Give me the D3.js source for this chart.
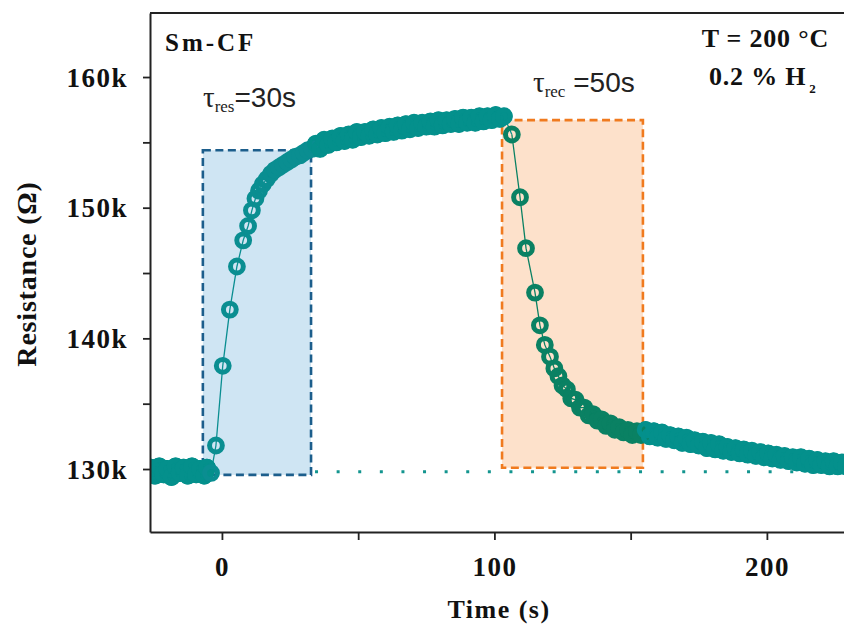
<!DOCTYPE html>
<html>
<head>
<meta charset="utf-8">
<script src="https://cdn.jsdelivr.net/npm/d3@7"></script>
<style>
  html, body { margin: 0; padding: 0; background: #fff; }
  svg { display: block; }
  .serifb { font-family: "Liberation Serif", "Times New Roman", serif; font-weight: bold; fill: #111; }
</style>
</head>
<body>
<svg id="chart" width="844" height="626"></svg>
<script>
// ---------------- DATA ----------------
// Time (s) / Resistance (kΩ)
const baseTime = [-26, -24.5, -23, -21.5, -20, -18.5, -17, -15.5, -14, -12.5, -11, -9.5, -8, -6.5, -5.5];
const baseRes  = [130.1, 129.5, 130.2, 129.6, 130.0, 129.4, 130.2, 129.7, 130.1, 129.5, 130.2, 129.6, 130.0, 129.5, 130.1];

const riseTime = [-4, -2.2, 0.3, 2.9, 5.5, 7.8, 9.6, 11, 12.3, 13.6, 15, 16.5, 18, 19.5, 21, 22.5, 24, 25.5, 27, 28.6, 30, 31.5, 33];
const riseRes  = [129.7, 131.8, 137.9, 142.2, 145.5, 147.5, 148.6, 149.8, 150.7, 151.3, 151.8, 152.2, 152.6, 152.9, 153.1, 153.3, 153.5, 153.7, 153.9, 154.0, 154.2, 154.4, 154.5];

const plateauTime = [34.5, 36, 37.5, 39, 40.5, 42, 43.5, 45, 46.5, 48, 49.5, 51, 52.5, 54, 55.5, 57, 58.5, 60, 61.5, 63, 64.5, 66, 67.5, 69, 70.5, 72, 73.5, 75, 76.5, 78, 79.5, 81, 82.5, 84, 85.5, 87, 88.5, 90, 91.5, 93, 94.5, 96, 97.5, 99, 100.5, 102, 103.5];
const plateauRes  = [154.9, 154.5, 155.2, 154.8, 155.3, 155.0, 155.5, 155.1, 155.6, 155.2, 155.8, 155.4, 155.8, 155.5, 156.0, 155.6, 156.1, 155.7, 156.2, 155.8, 156.3, 155.9, 156.4, 156.0, 156.5, 156.1, 156.5, 156.2, 156.6, 156.2, 156.7, 156.3, 156.7, 156.4, 156.8, 156.4, 156.9, 156.5, 156.9, 156.5, 157.0, 156.6, 157.0, 156.7, 157.1, 156.8, 157.0];

const recTime = [106.4, 109.4, 111.6, 114.9, 116.7, 118.5, 120.4, 122, 123.5, 125, 126.6, 128.2, 129.8, 131.4, 133, 134.6, 136.2, 137.8, 139.4, 141, 142.6, 144.2, 145.8, 147.4, 149, 150.6, 152.3, 153.8];
const recRes  = [155.6, 150.8, 146.9, 143.5, 141.0, 139.5, 138.6, 137.7, 137.1, 136.4, 136.1, 135.4, 135.3, 134.7, 134.7, 134.1, 134.2, 133.7, 133.8, 133.3, 133.5, 133.0, 133.2, 132.8, 133.0, 132.6, 132.9, 132.6];

const tailTime = [155.5, 157, 158.5, 160, 161.5, 163, 164.5, 166, 167.5, 169, 170.5, 172, 173.5, 175, 176.5, 178, 179.5, 181, 182.5, 184, 185.5, 187, 188.5, 190, 191.5, 193, 194.5, 196, 197.5, 199, 200.5, 202, 203.5, 205, 206.5, 208, 209.5, 211, 212.5, 214, 215.5, 217, 218.5, 220, 221.5, 223, 224.5, 226, 227.5, 229];
const tailRes  = [133.0, 132.5, 132.9, 132.4, 132.8, 132.3, 132.6, 132.2, 132.5, 132.0, 132.4, 131.9, 132.2, 131.8, 132.1, 131.6, 132.0, 131.5, 131.9, 131.4, 131.7, 131.3, 131.6, 131.2, 131.5, 131.1, 131.4, 131.0, 131.3, 130.9, 131.2, 130.8, 131.1, 130.7, 131.0, 130.6, 130.9, 130.5, 130.9, 130.4, 130.8, 130.3, 130.7, 130.3, 130.6, 130.2, 130.6, 130.2, 130.5, 130.2];

// Axis ticks
const xMajorTicks = [0, 100, 200];
const xMinorTicks = [50, 150];
const yMajorTicks = [130, 140, 150, 160];
const yMinorTicks = [135, 145, 155];
const yTickLabels = ["130k", "140k", "150k", "160k"];

// Response / recovery windows
const boxNames  = ["res", "rec"];
const boxStart  = [-7, 102.8];
const boxEnd    = [32.7, 154.5];
const boxTop    = [154.4, 156.7];
const boxBottom = [129.55, 130.1];
const baselineLevel = 129.8;

// ---------------- DRAW ----------------
const svg = d3.select("#chart");
const L = 150, R = 844, T = 13, B = 532;
const x = d3.scaleLinear().domain([-26.4, 228.3]).range([L, R]);
const y = d3.scaleLinear().domain([125.18, 164.9]).range([B, T]);

svg.append("defs").append("clipPath").attr("id", "plotclip")
  .append("rect").attr("x", L).attr("y", T).attr("width", R - L).attr("height", B - T);

const plot = svg.append("g").attr("clip-path", "url(#plotclip)");

// boxes
const boxFill = ["#cfe5f3", "#fde1cb"];
const boxStroke = ["#1c5e8c", "#f07a1e"];
boxNames.forEach((n, i) => {
  plot.append("rect")
    .attr("x", x(boxStart[i])).attr("y", y(boxTop[i]))
    .attr("width", x(boxEnd[i]) - x(boxStart[i]))
    .attr("height", y(boxBottom[i]) - y(boxTop[i]))
    .attr("fill", boxFill[i]);
});
boxNames.forEach((n, i) => {
  plot.append("rect")
    .attr("x", x(boxStart[i])).attr("y", y(boxTop[i]))
    .attr("width", x(boxEnd[i]) - x(boxStart[i]))
    .attr("height", y(boxBottom[i]) - y(boxTop[i]))
    .attr("fill", "none").attr("stroke", boxStroke[i])
    .attr("stroke-width", 2.6).attr("stroke-dasharray", "8 4.5");
});

// dotted baseline
plot.append("line")
  .attr("x1", x(boxEnd[0]) + 4).attr("x2", R)
  .attr("y1", y(baselineLevel)).attr("y2", y(baselineLevel))
  .attr("stroke", "#13958f").attr("stroke-width", 3)
  .attr("stroke-dasharray", "3 18.6");

// series
const teal = "#04908c", green = "#0a8163", riseC = "#0a8e91";
const segments = [
  { t: baseTime, r: baseRes, c: teal, dense: 0, w: 18 },
  { t: riseTime, r: riseRes, c: riseC, dense: 12, w: 11 },
  { t: plateauTime, r: plateauRes, c: teal, dense: 0, w: 17 },
  { t: recTime, r: recRes, c: green, dense: 16, w: 14 },
  { t: tailTime, r: tailRes, c: teal, dense: 0, w: 17 }
];
const allPts = [];
segments.forEach(s => s.t.forEach((t, i) => allPts.push({ t, r: s.r[i], c: s.c })));

const line = d3.line().x(d => x(d.t)).y(d => y(d.r));

// dense sampling renders as a solid band: thick stroke through the densely sampled points
segments.forEach(s => {
  const pts = s.t.map((t, i) => ({ t, r: s.r[i] })).slice(s.dense);
  plot.append("path").attr("d", line(pts)).attr("fill", "none")
    .attr("stroke", s.c).attr("stroke-width", s.w)
    .attr("stroke-linejoin", "round").attr("stroke-linecap", "round");
});
// thin connecting lines
segments.forEach(s => {
  const pts = s.t.map((t, i) => ({ t, r: s.r[i] }));
  plot.append("path").attr("d", line(pts)).attr("fill", "none")
    .attr("stroke", s.c).attr("stroke-width", 1.3);
});
plot.append("path").attr("d", line([{t: plateauTime[plateauTime.length-1], r: plateauRes[plateauRes.length-1]}, {t: recTime[0], r: recRes[0]}]))
  .attr("fill", "none").attr("stroke", teal).attr("stroke-width", 1.3);

plot.selectAll("circle.pt").data(allPts).join("circle")
  .attr("class", "pt")
  .attr("cx", d => x(d.t)).attr("cy", d => y(d.r))
  .attr("r", 6.4).attr("fill", "none")
  .attr("stroke", d => d.c).attr("stroke-width", 5);

// top frame line
svg.append("line").attr("x1", L).attr("x2", R).attr("y1", T).attr("y2", T)
  .attr("stroke", "#222").attr("stroke-width", 2);

// axes
const yAxis = d3.axisLeft(y).tickValues(yMajorTicks.concat(yMinorTicks)).tickSize(7).tickSizeOuter(0)
  .tickPadding(15)
  .tickFormat(d => { const k = yMajorTicks.indexOf(d); return k >= 0 ? yTickLabels[k] : ""; });
const gy = svg.append("g").attr("transform", `translate(${L},0)`).call(yAxis);

const xAxis = d3.axisBottom(x).tickValues(xMajorTicks.concat(xMinorTicks)).tickSize(8).tickSizeOuter(0)
  .tickPadding(17)
  .tickFormat(d => xMajorTicks.indexOf(d) >= 0 ? String(d) : "");
const gx = svg.append("g").attr("transform", `translate(0,${B})`).call(xAxis);

[gx, gy].forEach(g => {
  g.select(".domain").attr("stroke", "#222").attr("stroke-width", 2);
  g.selectAll(".tick line").attr("stroke", "#222").attr("stroke-width", 1.8);
  g.selectAll(".tick text")
    .attr("class", "serifb")
    .style("font-family", '"Liberation Serif", serif')
    .style("font-weight", "bold")
    .style("font-size", "27px")
    .style("letter-spacing", "1.5px")
    .attr("fill", "#111");
});
gy.selectAll(".tick text").attr("dy", "0.34em");

// axis titles
svg.append("text").attr("class", "serifb")
  .attr("x", 499).attr("y", 618).attr("text-anchor", "middle")
  .style("font-size", "26px").style("letter-spacing", "1.5px")
  .text("Time (s)");

svg.append("text").attr("class", "serifb")
  .attr("transform", "translate(36,274) rotate(-90)")
  .attr("text-anchor", "middle")
  .style("font-size", "28px").style("letter-spacing", "0.8px")
  .text("Resistance (Ω)");

// annotations
svg.append("text").attr("class", "serifb")
  .attr("x", 165).attr("y", 51)
  .style("font-size", "25px").style("letter-spacing", "3px")
  .text("Sm-CF");

svg.append("text").attr("class", "serifb")
  .attr("x", 829).attr("y", 47).attr("text-anchor", "end")
  .style("font-size", "26px").style("letter-spacing", "0.8px")
  .text("T = 200 °C");

const h2 = svg.append("text").attr("class", "serifb")
  .attr("x", 709).attr("y", 85)
  .style("font-size", "26px").style("letter-spacing", "0.8px");
h2.append("tspan").text("0.2 % H");
h2.append("tspan").attr("dx", 3).attr("dy", 8).style("font-size", "13px").text("2");

function tauLabel(xp, yp, sub, rest) {
  const t = svg.append("text").attr("x", xp).attr("y", yp)
    .style("font-family", '"Liberation Serif", serif').style("font-size", "29px").attr("fill", "#222");
  t.append("tspan").text("τ");
  t.append("tspan").attr("dy", 5).style("font-size", "17px").text(sub);
  t.append("tspan").attr("dy", -5)
    .style("font-family", '"Liberation Sans", Arial, sans-serif').style("font-size", "28px")
    .text(rest);
}
tauLabel(203, 107, "res", "=30s");
tauLabel(533, 92, "rec", " =50s");
</script>
</body>
</html>
